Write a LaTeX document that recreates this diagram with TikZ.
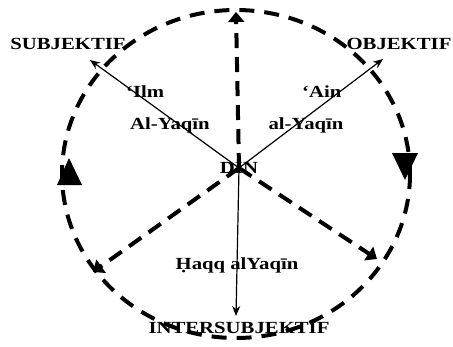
\documentclass[tikz,border=0pt]{standalone}
\usepackage{fontspec}
\setmainfont{Liberation Serif}[FakeStretch=1.22]
\usetikzlibrary{arrows.meta}
\begin{document}
\begin{tikzpicture}[x=1pt,y=-1pt,
  lbl/.style={font=\fontsize{17}{19}\selectfont\bfseries, inner sep=0pt},
  thinarrow/.style={line width=1.2pt,-{Stealth[length=10pt,width=8pt]}},
  dasharrow/.style={line width=4pt, dash pattern=on 15pt off 9pt, -{Triangle[length=10pt,width=16pt]}},
  ring/.style={line width=4pt, dash pattern=on 15pt off 10pt},
  tri/.style={fill=black}]
\useasboundingbox (0,0) rectangle (453,346);
% labels
\node[lbl] (subj) at (68,44) {SUBJEKTIF};
\node[lbl] (obj) at (399,44) {OBJEKTIF};
\node[lbl] (inter) at (239,328) {INTERSUBJEKTIF};
\node[lbl, anchor=west] (ilm) at (126,92) {‘Ilm};
\node[lbl] (aly1) at (170,125) {Al-Yaqīn};
\node[lbl, anchor=west] (ain) at (302,92) {‘Ain};
\node[lbl] (aly2) at (306,125) {al-Yaqīn};
\node[lbl] (din) at (239,168) {DIN};
\node[lbl] (haqq) at (237,265) {Ḥaqq alYaqīn};
% tips
\coordinate (tl) at (90,60);
\coordinate (tr) at (383,59);
\coordinate (tb) at (236,316);
\coordinate (tt) at (236,12);
\coordinate (tbl) at (93,272);
\coordinate (tbr) at (377,259);
% thin arrows
\draw[thinarrow] (din.center) -- (tl);
\draw[thinarrow] (din.center) -- (tr);
\draw[thinarrow] (din.center) -- (tb);
% dashed arrows
\draw[dasharrow] (din.center) -- (tt);
\draw[dasharrow] (din.center) -- (tbl);
\draw[dasharrow] (din.center) -- (tbr);
% ring
\draw[ring] (236,174) ellipse [x radius=174, y radius=164];
\fill[tri] (69,158) -- (57,185) -- (82,185) -- cycle;
\fill[tri] (405,180) -- (392,153) -- (418,153) -- cycle;
\end{tikzpicture}
\end{document}
